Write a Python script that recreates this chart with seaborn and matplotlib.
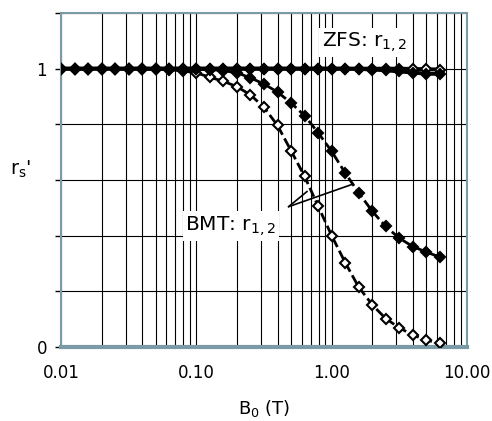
import numpy as np
import pandas as pd
import matplotlib
matplotlib.use("Agg")
import matplotlib.pyplot as plt
import seaborn as sns
from matplotlib.ticker import FixedLocator, NullFormatter

sns.set_theme(style="white")
plt.rcParams['font.family'] = ['DejaVu Sans']
plt.rcParams['text.color'] = 'black'
plt.rcParams['axes.labelcolor'] = 'black'
plt.rcParams['xtick.color'] = 'black'
plt.rcParams['ytick.color'] = 'black'

# Field values B0 (T)
b0 = [0.010, 0.0126, 0.0158, 0.020, 0.0251, 0.0316, 0.0398, 0.0501, 0.0631, 0.0794,
      0.100, 0.126, 0.158, 0.200, 0.251, 0.316, 0.398, 0.501, 0.631, 0.794,
      1.00, 1.26, 1.58, 2.00, 2.51, 3.16, 3.98, 5.01, 6.31]

zfs_r1 = [1.0] * 22 + [0.999, 0.997, 0.994, 0.990, 0.986, 0.982, 0.981]
zfs_r2 = [1.0] * 25 + [1.0, 0.999, 0.998, 0.997]
bmt_r1 = [1.0] * 10 + [0.998, 0.997, 0.993, 0.985, 0.967, 0.945, 0.916, 0.877, 0.831,
                       0.770, 0.703, 0.625, 0.555, 0.487, 0.433, 0.391, 0.361, 0.341, 0.323]
bmt_r2 = [1.0, 1.0, 1.0, 1.0, 1.0, 1.0, 0.999, 0.998, 0.996, 0.992,
          0.985, 0.969, 0.955, 0.935, 0.906, 0.861, 0.796, 0.705, 0.613, 0.506,
          0.400, 0.303, 0.216, 0.151, 0.102, 0.069, 0.043, 0.025, 0.013]

x_ticks = [0.01, 0.1, 1, 10]
x_labels = ["0.01", "0.10", "1.00", "10.00"]
y_ticks = [0, 0.2, 0.4, 0.6, 0.8, 1.0, 1.2]
y_labels = ["0", "", "", "", "", "1", ""]

df = pd.DataFrame({"B0": b0, "zfs_r1": zfs_r1, "zfs_r2": zfs_r2,
                   "bmt_r1": bmt_r1, "bmt_r2": bmt_r2})

fig = plt.figure(figsize=(4.92, 4.21), dpi=100)
ax = fig.add_axes([61/492, 1-347/421, (467-61)/492, (347-13)/421])

common = dict(ax=ax, color="black", marker="D", markersize=5,
              markeredgecolor="black", markeredgewidth=1.5, legend=False)

sns.lineplot(data=df, x="B0", y="bmt_r2", linewidth=2, linestyle=(0, (3.5, 1.5)),
             markerfacecolor="white", zorder=3, **common)
sns.lineplot(data=df, x="B0", y="bmt_r1", linewidth=2, linestyle=(0, (3.5, 1.5)),
             markerfacecolor="black", zorder=4, **common)
sns.lineplot(data=df, x="B0", y="zfs_r2", linewidth=2.8,
             markerfacecolor="white", zorder=5, **common)
sns.lineplot(data=df, x="B0", y="zfs_r1", linewidth=2.8,
             markerfacecolor="black", zorder=6, **common)

ax.set_xscale("log")
ax.set_xlim(0.01, 10)
ax.set_ylim(0, 1.2)
ax.xaxis.set_major_locator(FixedLocator(x_ticks))
ax.set_xticklabels(x_labels)
ax.xaxis.set_minor_formatter(NullFormatter())
ax.set_yticks(y_ticks)
ax.set_yticklabels(y_labels)

ax.grid(True, which="both", axis="x", color="black", linewidth=0.8)
ax.grid(True, which="major", axis="y", color="black", linewidth=0.8)
ax.set_axisbelow(True)

for s in ax.spines.values():
    s.set_color("#7a9aa6")
    s.set_linewidth(1.5)
ax.spines["bottom"].set_linewidth(3)

ax.tick_params(axis="x", which="both", length=0, pad=12, labelsize=12, colors="black")
ax.tick_params(axis="y", which="major", length=4, width=1, color="black",
               left=True, pad=6, labelsize=12, labelcolor="black")

ax.set_xlabel("B$_0$ (T)", fontsize=13, labelpad=12)
ax.set_ylabel("r$_\\mathregular{s}$'", fontsize=14, rotation=0)
ax.yaxis.set_label_coords(-0.1, 0.5)

bbox = dict(facecolor="white", edgecolor="none", pad=2)
ax.text(1.76, 1.094, "ZFS: r$_{1,2}$", fontsize=14.5, ha="center", va="center",
        bbox=bbox, zorder=7)
ax.text(0.18, 0.435, "BMT: r$_{1,2}$", fontsize=14.5, ha="center", va="center",
        bbox=bbox, zorder=7)
ax.plot([0.48, 0.659], [0.504, 0.559], color="black", linewidth=1.2, zorder=7)
ax.plot([0.48, 1.43], [0.504, 0.585], color="black", linewidth=1.2, zorder=7)

fig.savefig("out.png", dpi=100)
